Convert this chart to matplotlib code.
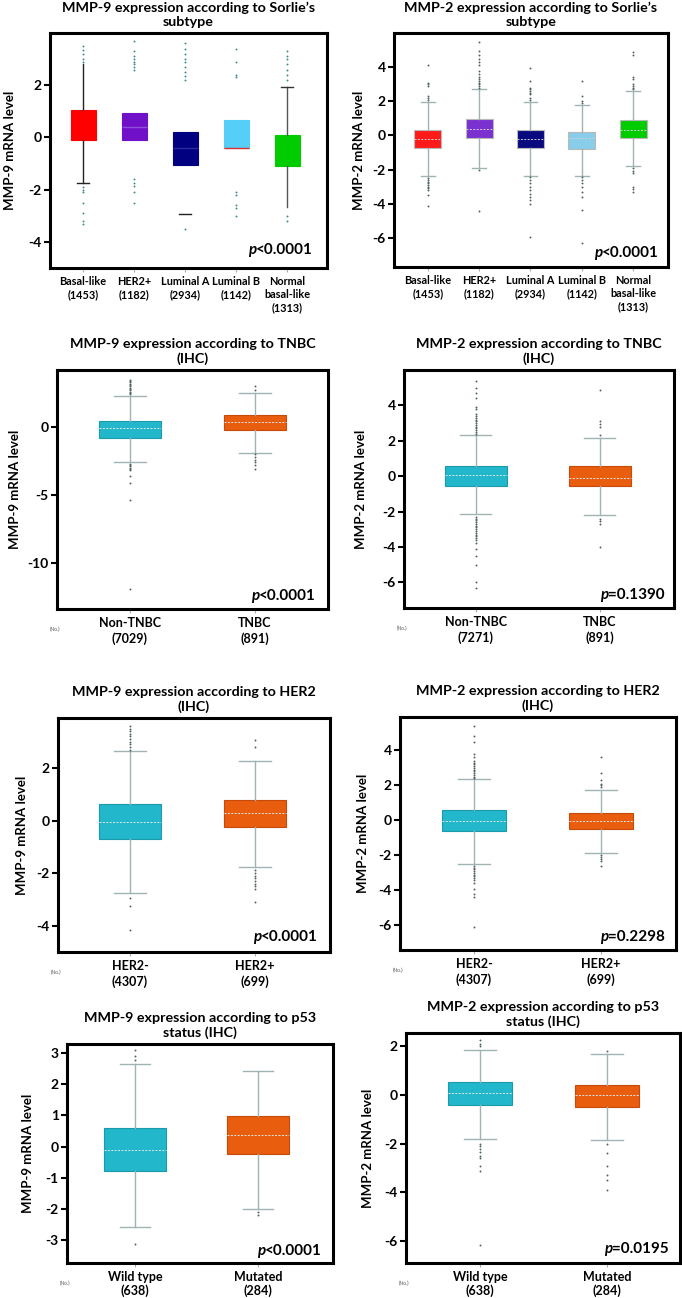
import numpy as np
import matplotlib.pyplot as plt

plt.rcParams['font.family'] = ['Lato', 'DejaVu Sans']

W, H = 682, 1298

# ---------------- data ----------------
sorlie_labels = ['Basal-like\n(1453)', 'HER2+\n(1182)', 'Luminal A\n(2934)',
                 'Luminal B\n(1142)', 'Normal\nbasal-like\n(1313)']
sorlie9_colors = ['#ff0000', '#7010c8', '#000080', '#55cff8', '#00cc00']
sorlie2_colors = ['#ff1a1a', '#7b30d0', '#0a0a80', '#88cdea', '#00cc00']
pair_colors = ['#23b7cb', '#e95d0f']

# MMP-9 by Sorlie subtype
s9_q1 = [-0.1, -0.1, -1.07, -0.4, -1.1]
s9_med = [0.5, 0.4, -0.4, -0.4, -0.5]
s9_q3 = [1.05, 0.95, 0.2, 0.65, 0.1]
s9_lo = [-1.75, -0.1, -2.95, -0.4, -2.65]
s9_hi = [2.8, 0.95, 0.2, 0.65, 1.95]
s9_out = [
    [2.9, 3.0, 3.2, 3.35, 3.5, -1.9, -2.0, -2.1, -2.5, -2.9, -3.2, -3.3],
    [2.6, 2.7, 2.8, 2.9, 3.0, 3.1, 3.3, 3.7, -1.6, -1.75, -1.85, -2.1, -2.5],
    [2.2, 2.35, 2.5, 2.7, 2.9, 3.0, 3.2, 3.4, 3.6, -3.5],
    [2.3, 2.4, 2.9, 3.4, -2.1, -2.2, -2.6, -2.7, -3.0],
    [2.2, 2.4, 2.6, 2.8, 3.0, 3.1, 3.3, -3.0, -3.2],
]

# MMP-2 by Sorlie subtype
s2_q1 = [-0.75, -0.15, -0.75, -0.8, -0.15]
s2_med = [-0.2, 0.4, -0.2, -0.15, 0.35]
s2_q3 = [0.35, 0.95, 0.3, 0.2, 0.9]
s2_lo = [-2.35, -1.9, -2.35, -2.35, -1.8]
s2_hi = [1.95, 2.75, 1.95, 1.8, 2.6]
s2_out = [
    [2.1, 2.2, 2.3, 2.9, 3.0, 3.1, 4.15, -2.5, -2.6, -2.7, -2.8, -2.9, -3.0, -3.1, -3.2, -3.5, -4.1],
    [2.8, 2.9, 3.0, 3.1, 3.2, 3.3, 3.4, 3.6, 3.8, 4.1, 4.3, 4.5, 4.7, 4.95, 5.5, -2.05, -4.45],
    [2.05, 2.2, 2.4, 2.5, 2.6, 2.7, 2.8, 3.2, 3.95, -2.45, -2.6, -2.8, -3.0, -3.2, -3.4, -3.6,
     -3.75, -4.0, -5.95],
    [1.9, 2.0, 2.3, 3.2, -2.45, -2.6, -2.8, -3.0, -3.3, -3.6, -4.35, -6.3],
    [2.7, 2.8, 2.9, 3.0, 3.3, 3.45, 4.7, 4.9, -1.9, -2.1, -2.2, -3.0, -3.15, -3.3],
]

# MMP-9 by TNBC
t9_labels = ['Non-TNBC\n(7029)', 'TNBC\n(891)']
t9_q1 = [-0.8, -0.2]
t9_med = [-0.1, 0.35]
t9_q3 = [0.45, 0.85]
t9_lo = [-2.6, -1.9]
t9_hi = [2.3, 2.5]
t9_out = [
    [2.4, 2.5, 2.6, 2.7, 2.8, 2.9, 3.0, 3.1, 3.2, 3.3, 3.4, 3.5,
     -2.7, -2.8, -2.9, -3.0, -3.1, -3.2, -3.6, -4.1, -5.4, -11.9],
    [2.7, 3.05, -2.0, -2.2, -2.4, -2.6, -2.8, -3.1],
]

# MMP-2 by TNBC
t2_labels = ['Non-TNBC\n(7271)', 'TNBC\n(891)']
t2_q1 = [-0.55, -0.55]
t2_med = [0.05, -0.1]
t2_q3 = [0.6, 0.55]
t2_lo = [-2.15, -2.2]
t2_hi = [2.3, 2.15]
t2_out = [
    [2.4, 2.5, 2.6, 2.7, 2.8, 2.9, 3.0, 3.1, 3.2, 3.3, 3.4, 3.5, 3.8, 3.9, 4.4, 4.7, 5.0, 5.4,
     -2.3, -2.4, -2.5, -2.6, -2.7, -2.8, -2.9, -3.0, -3.1, -3.2, -3.3, -3.4, -3.5, -3.6, -3.8,
     -4.1, -4.5, -5.0, -6.0, -6.3],
    [2.3, 2.8, 2.95, 3.1, 4.85, -2.4, -2.55, -2.7, -4.0],
]

# MMP-9 by HER2
h9_labels = ['HER2-\n(4307)', 'HER2+\n(699)']
h9_q1 = [-0.7, -0.25]
h9_med = [-0.05, 0.3]
h9_q3 = [0.62, 0.78]
h9_lo = [-2.75, -1.75]
h9_hi = [2.65, 2.25]
h9_out = [
    [2.7, 2.8, 2.9, 3.0, 3.1, 3.2, 3.3, 3.4, 3.5, 3.6, -2.95, -3.25, -4.15],
    [2.8, 3.05, -1.9, -2.0, -2.1, -2.2, -2.3, -2.4, -2.5, -2.6, -3.1],
]

# MMP-2 by HER2
h2_labels = ['HER2-\n(4307)', 'HER2+\n(699)']
h2_q1 = [-0.6, -0.5]
h2_med = [-0.05, -0.05]
h2_q3 = [0.58, 0.4]
h2_lo = [-2.5, -1.85]
h2_hi = [2.35, 1.75]
h2_out = [
    [2.4, 2.5, 2.6, 2.7, 2.8, 2.9, 3.0, 3.1, 3.2, 3.3, 3.4, 3.6, 3.8, 4.5, 4.8, 5.4,
     -2.6, -2.7, -2.8, -2.9, -3.0, -3.1, -3.2, -3.3, -3.4, -3.6, -3.9, -4.2, -4.4, -6.1],
    [1.9, 2.0, 2.1, 2.3, 2.7, 3.6, -2.0, -2.1, -2.2, -2.3, -2.6],
]

# MMP-9 by p53
p9_labels = ['Wild type\n(638)', 'Mutated\n(284)']
p9_q1 = [-0.8, -0.25]
p9_med = [-0.1, 0.37]
p9_q3 = [0.58, 0.98]
p9_lo = [-2.6, -2.0]
p9_hi = [2.65, 2.42]
p9_out = [[2.8, 2.9, 3.1, -3.15], [-2.1, -2.2]]

# MMP-2 by p53
p2_labels = ['Wild type\n(638)', 'Mutated\n(284)']
p2_q1 = [-0.4, -0.5]
p2_med = [0.1, 0.0]
p2_q3 = [0.55, 0.42]
p2_lo = [-1.8, -1.85]
p2_hi = [1.85, 1.68]
p2_out = [[2.0, 2.1, 2.25, -2.0, -2.1, -2.2, -2.35, -2.5, -2.6, -2.9, -3.1, -6.15],
          [1.8, -2.0, -2.4, -2.9, -3.3, -3.5, -3.9]]


fig = plt.figure(figsize=(W / 100, H / 100), dpi=100)


def make_axes(l, t, r, b):
    return fig.add_axes([l / W, 1 - b / H, (r - l) / W, (b - t) / H])


def boxpanel(ax, labels, q1, med, q3, lo, hi, out, colors, width,
             edge=None, whisk='#9fb3b3', medcol='#dde8e8', flier='#506262'):
    stats = []
    for i in range(len(labels)):
        stats.append(dict(q1=q1[i], med=med[i], q3=q3[i], whislo=lo[i],
                          whishi=hi[i], fliers=out[i]))
    pos = np.arange(1, len(labels) + 1)
    res = ax.bxp(stats, positions=pos, widths=width, patch_artist=True,
                 showfliers=True,
                 boxprops=dict(linewidth=0.8),
                 whiskerprops=dict(color=whisk, linewidth=1.0),
                 capprops=dict(color=whisk, linewidth=1.0),
                 medianprops=dict(color=medcol, linewidth=0.7, linestyle=(0, (2, 1.5))),
                 flierprops=dict(marker='o', markersize=1.4, markerfacecolor=flier,
                                 markeredgewidth=0, linestyle='none'))
    for i, patch in enumerate(res['boxes']):
        patch.set_facecolor(colors[i])
        patch.set_edgecolor(edge[i] if edge is not None else colors[i])
    ax.set_xticks(pos)
    return res


def style(ax, title, ylabel, yticks, ylim, xlim, labels, xsize, ylab_dx,
          ptext, pdx=11, pdy=14, no_label=True, lsp=1.25):
    ax.set_ylim(ylim)
    ax.set_xlim(xlim)
    for s in ax.spines.values():
        s.set_linewidth(2.2)
    ax.set_yticks(yticks)
    ax.set_yticklabels([str(v) for v in yticks], fontweight='bold', fontsize=10)
    ax.set_xticklabels(labels, fontweight='bold', fontsize=xsize, linespacing=lsp)
    ax.tick_params(axis='y', direction='out', length=4, width=1.5, pad=2)
    ax.tick_params(axis='x', direction='out', length=3, width=0.8, color='#aaaaaa', pad=3)
    ax.set_title(title, fontsize=10.3, fontweight='bold', pad=5, linespacing=1.25)
    ax.set_ylabel(ylabel, fontsize=9.5, fontweight='bold')
    axw = ax.get_position().width * W
    ax.yaxis.set_label_coords(-(ylab_dx - 6) / axw, 0.5)
    num = ax.annotate(ptext, xy=(1, 0), xycoords='axes fraction',
                      xytext=(-pdx, pdy), textcoords='offset pixels',
                      ha='right', va='center', fontsize=11, fontweight='bold')
    ax.annotate('p', xy=(0, 0), xycoords=num, ha='right', va='bottom',
                fontsize=11, fontweight='bold', fontstyle='italic')
    if no_label:
        ax.annotate('(No.)', xy=(0, 0), xycoords='axes fraction', xytext=(-2, -20),
                    textcoords='offset pixels', ha='center', va='center',
                    fontsize=3.5, color='#555555')


# ---- row 1: Sorlie subtypes ----
ax1 = make_axes(50, 33, 327, 268)
r1 = boxpanel(ax1, sorlie_labels, s9_q1, s9_med, s9_q3, s9_lo, s9_hi, s9_out,
              sorlie9_colors, 0.49, whisk='#222222', flier='#3f8a8a')
vis = [(True, True, True, False), (False, False, False, False),
       (False, False, True, False), (False, False, False, False),
       (True, True, False, True)]
for i, (wl, wh, cl, ch) in enumerate(vis):
    r1['whiskers'][2 * i].set_visible(wl)
    r1['whiskers'][2 * i + 1].set_visible(wh)
    r1['caps'][2 * i].set_visible(cl)
    r1['caps'][2 * i + 1].set_visible(ch)
r1['whiskers'][8].set_color('#555555')
r1['whiskers'][9].set_color('#555555')
r1['caps'][9].set_color('#333333')
med1 = ['#ff0000', '#9050d8', '#2a2a9a', '#e03030', '#00cc00']
for m, c in zip(r1['medians'], med1):
    m.set_color(c)
    m.set_linestyle('-')
    m.set_linewidth(1.0)
style(ax1, "MMP-9 expression according to Sorlie’s\nsubtype", 'MMP-9 mRNA level',
      [-4, -2, 0, 2], (-5.0, 4.0), (0.35, 5.78), sorlie_labels, 7.8, 40,
      '<0.0001', pdx=14, pdy=18, no_label=False, lsp=1.2)

ax2 = make_axes(394, 33, 668, 267)
boxpanel(ax2, sorlie_labels, s2_q1, s2_med, s2_q3, s2_lo, s2_hi, s2_out,
         sorlie2_colors, 0.53, edge=['#b8b8b8'] * 5, medcol='#d0d0d0')
style(ax2, "MMP-2 expression according to Sorlie’s\nsubtype", 'MMP-2 mRNA level',
      [-6, -4, -2, 0, 2, 4], (-7.7, 6.0), (0.34, 5.68), sorlie_labels, 7.8, 35,
      '<0.0001', pdx=9, pdy=14, no_label=False, lsp=1.2)

pair_edges = ['#1a9aab', '#c84a08']

# ---- row 2: TNBC ----
ax3 = make_axes(57, 370, 328, 609)
boxpanel(ax3, t9_labels, t9_q1, t9_med, t9_q3, t9_lo, t9_hi, t9_out,
         pair_colors, 0.5, edge=pair_edges)
style(ax3, 'MMP-9 expression according to TNBC\n(IHC)', 'MMP-9 mRNA level',
      [-10, -5, 0], (-13.4, 4.2), (0.416, 2.584), t9_labels, 9, 42,
      '<0.0001', pdx=12, pdy=13)

ax4 = make_axes(404, 370, 674, 608)
boxpanel(ax4, t2_labels, t2_q1, t2_med, t2_q3, t2_lo, t2_hi, t2_out,
         pair_colors, 0.5, edge=pair_edges)
style(ax4, 'MMP-2 expression according to TNBC\n(IHC)', 'MMP-2 mRNA level',
      [-6, -4, -2, 0, 2, 4], (-7.45, 6.0), (0.42, 2.6), t2_labels, 9, 43,
      '=0.1390', pdx=9, pdy=13)

# ---- row 3: HER2 ----
ax5 = make_axes(58, 718, 330, 952)
boxpanel(ax5, h9_labels, h9_q1, h9_med, h9_q3, h9_lo, h9_hi, h9_out,
         pair_colors, 0.5, edge=pair_edges)
style(ax5, 'MMP-9 expression according to HER2\n(IHC)', 'MMP-9 mRNA level',
      [-4, -2, 0, 2], (-5.0, 3.9), (0.424, 2.6), h9_labels, 9, 36,
      '<0.0001', pdx=12, pdy=15)

ax6 = make_axes(400, 717, 676, 950)
boxpanel(ax6, h2_labels, h2_q1, h2_med, h2_q3, h2_lo, h2_hi, h2_out,
         pair_colors, 0.5, edge=pair_edges)
style(ax6, 'MMP-2 expression according to HER2\n(IHC)', 'MMP-2 mRNA level',
      [-6, -4, -2, 0, 2, 4], (-7.4, 5.9), (0.417, 2.59), h2_labels, 9, 37,
      '=0.2298', pdx=11, pdy=13)

# ---- row 4: p53 ----
ax7 = make_axes(67, 1044, 333, 1263)
boxpanel(ax7, p9_labels, p9_q1, p9_med, p9_q3, p9_lo, p9_hi, p9_out,
         pair_colors, 0.5, edge=pair_edges)
style(ax7, 'MMP-9 expression according to p53\nstatus (IHC)', 'MMP-9 mRNA level',
      [-3, -2, -1, 0, 1, 2, 3], (-3.75, 3.3), (0.447, 2.61), p9_labels, 9, 39,
      '<0.0001', pdx=11, pdy=12, lsp=1.1)

ax8 = make_axes(406, 1033, 680, 1263)
boxpanel(ax8, p2_labels, p2_q1, p2_med, p2_q3, p2_lo, p2_hi, p2_out,
         pair_colors, 0.5, edge=pair_edges)
style(ax8, 'MMP-2 expression according to p53\nstatus (IHC)', 'MMP-2 mRNA level',
      [-6, -4, -2, 0, 2], (-6.9, 2.55), (0.417, 2.575), p2_labels, 9, 38,
      '=0.0195', pdx=11, pdy=14, lsp=1.1)

fig.savefig('out.png', dpi=100)
